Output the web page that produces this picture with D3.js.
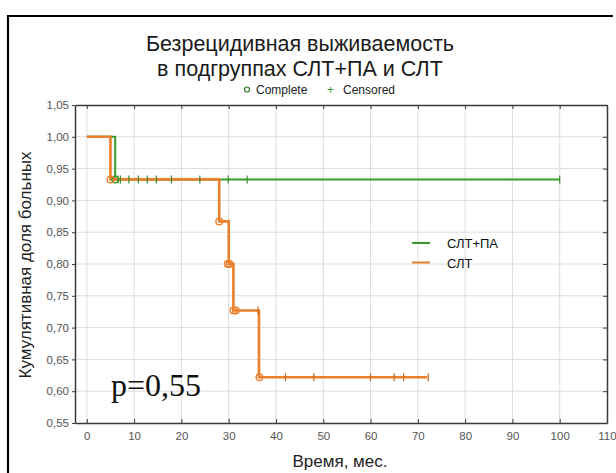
<!DOCTYPE html>
<html>
<head>
<meta charset="utf-8">
<script src="https://cdn.jsdelivr.net/npm/d3@7"></script>
<style>
  body { margin: 0; background: #fff; }
  svg { display: block; font-family: "Liberation Sans", Arial, sans-serif; }
</style>
</head>
<body>
<div id="container"></div>
<script>
// Kaplan-Meier data
var seriesNames = ["СЛТ+ПА", "СЛТ"];
var seriesColors = ["#3a9a2c", "#ea7f2c"];

// steps: [time, survival]
var slpaSteps = [[0, 1.0], [6, 1.0], [6, 0.933], [100, 0.933]];
var slpaEvents = [[6, 0.933]];
var slpaCensored = [[6.6, 0.933], [7.1, 0.933], [8.9, 0.933], [10.9, 0.933], [12.8, 0.933], [14.7, 0.933], [17.9, 0.933], [23.9, 0.933], [29.9, 0.933], [33.9, 0.933], [100, 0.933]];

var sltSteps = [[0, 1.0], [5, 1.0], [5, 0.933], [28, 0.933], [28, 0.867], [30, 0.867], [30, 0.8], [31, 0.8], [31, 0.727], [36.4, 0.727], [36.4, 0.622], [72, 0.622]];
var sltEvents = [[5, 0.933], [28, 0.867], [29.8, 0.8], [30.2, 0.8], [31, 0.727], [31.5, 0.727], [36.5, 0.622]];
var sltCensored = [[36.2, 0.727], [42, 0.622], [48, 0.622], [60, 0.622], [65, 0.622], [67, 0.622], [72.2, 0.622]];

var xTicks = [0, 10, 20, 30, 40, 50, 60, 70, 80, 90, 100, 110];
var yTicks = [0.55, 0.60, 0.65, 0.70, 0.75, 0.80, 0.85, 0.90, 0.95, 1.00, 1.05];

var width = 616, height = 473;
var plot = {left: 75, right: 607, top: 105, bottom: 423};

var svg = d3.select("#container").append("svg")
  .attr("width", width)
  .attr("height", height);

svg.append("rect").attr("width", width).attr("height", height).attr("fill", "#fff");

// outer frame (left and top only visible)
svg.append("path")
  .attr("d", "M8,473 L8,16 L613,16")
  .attr("fill", "none")
  .attr("stroke", "#000")
  .attr("stroke-width", 2.2);

var x = d3.scaleLinear().domain([-2.5, 110]).range([plot.left, plot.right]);
var y = d3.scaleLinear().domain([0.55, 1.05]).range([plot.bottom, plot.top]);
var fmt = function(d) { return d3.format(".2f")(d).replace(".", ","); };

// grid
var grid = svg.append("g").attr("stroke", "#dcdcdc").attr("stroke-width", 1);
grid.selectAll("line.vx").data(xTicks.filter(function(d) { return d < 110; })).enter().append("line")
  .attr("x1", function(d) { return x(d); }).attr("x2", function(d) { return x(d); })
  .attr("y1", plot.top).attr("y2", plot.bottom);
grid.selectAll("line.hy").data(yTicks.slice(1, -1)).enter().append("line")
  .attr("y1", function(d) { return y(d); }).attr("y2", function(d) { return y(d); })
  .attr("x1", plot.left).attr("x2", plot.right);

// axes
var axisColor = "#3a3a3a";
var bottomAxis = svg.append("g").attr("transform", "translate(0," + plot.bottom + ")")
  .call(d3.axisBottom(x).tickValues(xTicks).tickSizeInner(-4).tickSizeOuter(0).tickPadding(9));
var leftAxis = svg.append("g").attr("transform", "translate(" + plot.left + ",0)")
  .call(d3.axisLeft(y).tickValues(yTicks).tickFormat(fmt).tickSizeInner(3).tickSizeOuter(0).tickPadding(3));
var topAxis = svg.append("g").attr("transform", "translate(0," + plot.top + ")")
  .call(d3.axisTop(x).tickValues(xTicks).tickSizeInner(-4).tickSizeOuter(0).tickFormat(""));
var rightAxis = svg.append("g").attr("transform", "translate(" + plot.right + ",0)")
  .call(d3.axisRight(y).tickValues(yTicks).tickSizeInner(-4).tickSizeOuter(0).tickFormat(""));

[bottomAxis, leftAxis, topAxis, rightAxis].forEach(function(a) {
  a.select(".domain").attr("stroke", axisColor).attr("stroke-width", 1.5);
  a.selectAll(".tick line").attr("stroke", axisColor);
  a.selectAll(".tick text").attr("fill", "#555").style("font-size", "11.5px").style("font-family", "Liberation Sans, Arial, sans-serif");
});

// curves
var line = d3.line().x(function(d) { return x(d[0]); }).y(function(d) { return y(d[1]); });
var curves = [
  {steps: slpaSteps, events: slpaEvents, cens: slpaCensored, color: seriesColors[0], w: 2},
  {steps: sltSteps, events: sltEvents, cens: sltCensored, color: seriesColors[1], w: 2.6}
];

curves.forEach(function(c) {
  svg.append("path").datum(c.steps)
    .attr("d", line)
    .attr("fill", "none")
    .attr("stroke", c.color)
    .attr("stroke-width", c.w);
});

curves.forEach(function(c) {
  svg.append("g").selectAll("line").data(c.cens).enter().append("line")
    .attr("x1", function(d) { return x(d[0]); }).attr("x2", function(d) { return x(d[0]); })
    .attr("y1", function(d) { return y(d[1]) - 4; }).attr("y2", function(d) { return y(d[1]) + 4; })
    .attr("stroke", c.color === seriesColors[1] ? "#c86a28" : "#3a8a2c")
    .attr("stroke-width", 1.2);
  svg.append("g").selectAll("circle").data(c.events).enter().append("circle")
    .attr("cx", function(d) { return x(d[0]); })
    .attr("cy", function(d) { return y(d[1]); })
    .attr("r", 3.3)
    .attr("fill", "none")
    .attr("stroke", c.color)
    .attr("stroke-width", 1.4);
});

// titles
var title = svg.append("text").attr("x", 300).attr("text-anchor", "middle")
  .attr("fill", "#1a1a1a").style("font-size", "21.5px");
title.append("tspan").attr("x", 300).attr("y", 51).text("Безрецидивная выживаемость");
title.append("tspan").attr("x", 300).attr("y", 76).text("в подгруппах СЛТ+ПА и СЛТ");

// marker legend
var ml = svg.append("g").style("font-size", "12px");
ml.append("circle").attr("cx", 247).attr("cy", 89.5).attr("r", 2.5)
  .attr("fill", "none").attr("stroke", "#2f7a25").attr("stroke-width", 1.2);
ml.append("text").attr("x", 256).attr("y", 94).attr("fill", "#222").text("Complete");
ml.append("text").attr("x", 327).attr("y", 94).attr("fill", "#3a9a2c").text("+");
ml.append("text").attr("x", 343).attr("y", 94).attr("fill", "#222").text("Censored");

// axis titles
svg.append("text")
  .attr("transform", "translate(31,265) rotate(-90)")
  .attr("text-anchor", "middle")
  .attr("fill", "#222")
  .style("font-size", "17px")
  .text("Кумулятивная доля больных");
svg.append("text")
  .attr("x", 340).attr("y", 467)
  .attr("text-anchor", "middle")
  .attr("fill", "#222")
  .style("font-size", "17px")
  .text("Время, мес.");

// series legend
var lg = svg.append("g").attr("transform", "translate(412,243)");
lg.selectAll("g").data(seriesNames).enter().append("g")
  .attr("transform", function(d, i) { return "translate(0," + (i * 19.5) + ")"; })
  .each(function(d, i) {
    var g = d3.select(this);
    g.append("line").attr("x1", 0).attr("x2", 18).attr("stroke", seriesColors[i]).attr("stroke-width", 2);
    g.append("text").attr("x", 35).attr("y", 5).attr("fill", "#111").style("font-size", "13px").text(d);
  });

// p-value
svg.append("text")
  .attr("x", 111).attr("y", 396)
  .attr("fill", "#111")
  .style("font-family", "Liberation Serif, Times New Roman, serif")
  .style("font-size", "32px")
  .text("p=0,55");
</script>
</body>
</html>
